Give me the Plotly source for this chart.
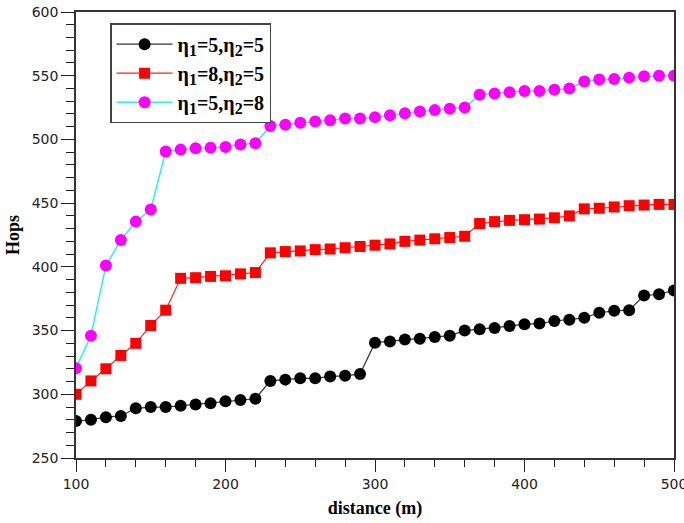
import plotly.graph_objects as go

distance = list(range(100, 510, 10))

hops_5_5 = [279, 280, 282, 283, 289, 290, 290, 291, 292, 293,
            294.5, 295.5, 296.5, 310.5, 311.5, 312.5, 312.5, 314, 314.5, 316,
            340.5, 341.5, 343, 343.5, 345, 346, 350, 351, 352, 353.5,
            355, 355.5, 357.5, 358.5, 360, 364, 365.5, 366, 377.5, 378.5,
            381.5]

hops_8_5 = [300, 310.5, 320, 330.5, 340, 354, 366, 391, 391.5, 392.5,
            393, 394.5, 395.5, 411, 412, 412.5, 413.5, 414, 415, 416,
            417, 418, 420, 421, 422, 423, 424, 434, 435.5, 436.5,
            437, 437.5, 438.5, 440, 445.5, 446, 447, 448, 448.5, 449,
            449]

hops_5_8 = [320.5, 346, 401, 421, 435.5, 445, 490.5, 492, 493, 493.5,
            494, 496, 497, 510.5, 511.5, 513, 514, 515, 516.5, 516.5,
            517.5, 519, 520.5, 522, 523, 524, 525, 535, 536, 537,
            538, 538, 539, 540, 545.5, 547, 547.5, 548.5, 549.5, 550,
            550]

sub1 = "<sub><span style='font-size:16px'>1</span></sub>"
sub2 = "<sub><span style='font-size:16px'>2</span></sub>"
series_names = ["η" + sub1 + "=5,η" + sub2 + "=5",
                "η" + sub1 + "=8,η" + sub2 + "=5",
                "η" + sub1 + "=5,η" + sub2 + "=8"]

fig = go.Figure()
fig.add_trace(go.Scatter(x=distance, y=hops_5_5, mode="lines+markers", name=series_names[0],
                         line=dict(color="#333333", width=1.2),
                         marker=dict(symbol="circle", size=12, color="black")))
fig.add_trace(go.Scatter(x=distance, y=hops_8_5, mode="lines+markers", name=series_names[1],
                         line=dict(color="#ff2020", width=1.2),
                         marker=dict(symbol="square", size=11, color="#ff0000")))
fig.add_trace(go.Scatter(x=distance, y=hops_5_8, mode="lines+markers", name=series_names[2],
                         line=dict(color="#33eef0", width=1.5),
                         marker=dict(symbol="circle", size=12, color="#ff00ff")))

tickfont = dict(family="DejaVu Sans", size=14, color="#222222")
titlefont = dict(family="Liberation Serif", size=18, color="black", weight="bold")

fig.update_layout(
    width=684, height=523,
    margin=dict(l=76, r=10, t=12, b=65, autoexpand=False),
    paper_bgcolor="white", plot_bgcolor="white",
    showlegend=True,
    legend=dict(x=0.057, y=0.975, xanchor="left", yanchor="top",
                bgcolor="white", bordercolor="#444444", borderwidth=1.5,
                font=dict(family="Liberation Serif", size=20, color="black", weight="bold"),
                itemwidth=56, entrywidth=195, tracegroupgap=0),
    xaxis=dict(range=[100, 500], tickmode="linear", tick0=100, dtick=100,
               ticks="outside", ticklen=12, tickwidth=1.2, tickcolor="#222",
               minor=dict(dtick=20, ticks="outside", ticklen=7, tickwidth=1.2, tickcolor="#222"),
               showline=True, linecolor="#333333", linewidth=1.5, mirror=True,
               showgrid=False, zeroline=False, tickfont=tickfont,
               ticklabeloverflow="allow", automargin=False,
               title=dict(text="distance (m)", font=titlefont, standoff=11)),
    yaxis=dict(range=[250, 600], tickmode="linear", tick0=250, dtick=50,
               ticks="outside", ticklen=13, tickwidth=1.2, tickcolor="#222",
               minor=dict(dtick=10, ticks="outside", ticklen=8, tickwidth=1.2, tickcolor="#222"),
               showline=True, linecolor="#333333", linewidth=1.5, mirror=True,
               showgrid=False, zeroline=False, tickfont=tickfont,
               ticklabeloverflow="allow", automargin=False,
               title=dict(text="Hops", font=titlefont, standoff=7)),
)

fig.write_html("out.html")
